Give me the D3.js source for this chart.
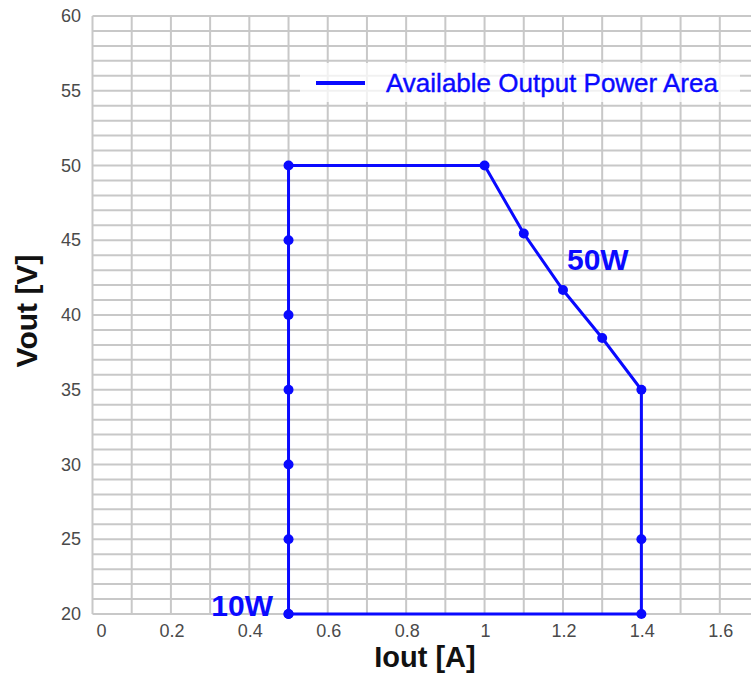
<!DOCTYPE html>
<html>
<head>
<meta charset="utf-8">
<script src="https://cdn.jsdelivr.net/npm/d3@7"></script>
<style>
    body { margin: 0; background: #fff; }
    svg { display: block; font-family: "Liberation Sans", Arial, sans-serif; }
</style>
</head>
<body>
<svg id="chart" width="751" height="677"></svg>
<script>
// Outline of the available output power area (Iout in A, Vout in V)
var iout = [0.5, 0.5, 0.5, 0.5, 0.5, 0.5, 0.5, 1.0, 1.1, 1.2, 1.3, 1.4, 1.4, 1.4, 0.5];
var vout = [20, 25, 30, 35, 40, 45, 50, 50, 45.45, 41.67, 38.46, 35, 25, 20, 20];

var xTicks = [0, 0.2, 0.4, 0.6, 0.8, 1, 1.2, 1.4, 1.6];
var yTicks = [20, 25, 30, 35, 40, 45, 50, 55, 60];
var xGrid = d3.range(0, 18).map(function (i) { return i / 10; });
var yGrid = d3.range(20, 61);

var blue = '#0a0aff';
var svg = d3.select('#chart');

var x = d3.scaleLinear().domain([0, 1.7]).range([92.5, 759]);
var y = d3.scaleLinear().domain([20, 60]).range([614, 16]);

// grid
var grid = svg.append('g').attr('class', 'grid')
    .attr('stroke', '#c8c8c8').attr('stroke-width', 2);
grid.selectAll('line.h')
    .data(yGrid)
    .enter()
    .append('line')
    .attr('class', 'h')
    .attr('x1', x(0)).attr('x2', 751)
    .attr('y1', function (d) { return y(d); })
    .attr('y2', function (d) { return y(d); });
grid.selectAll('line.v')
    .data(xGrid)
    .enter()
    .append('line')
    .attr('class', 'v')
    .attr('y1', y(60)).attr('y2', y(20))
    .attr('x1', function (d) { return x(d); })
    .attr('x2', function (d) { return x(d); });

// tick labels
svg.append('g').selectAll('text')
    .data(xTicks)
    .enter()
    .append('text')
    .attr('x', function (d) { return x(d) + (d === 0 ? 9 : 1); })
    .attr('y', 637)
    .attr('text-anchor', 'middle')
    .attr('font-size', 18)
    .attr('fill', '#4a4a4a')
    .text(function (d) { return d; });

svg.append('g').selectAll('text')
    .data(yTicks)
    .enter()
    .append('text')
    .attr('x', 81)
    .attr('y', function (d) { return y(d) + 6; })
    .attr('text-anchor', 'end')
    .attr('font-size', 18)
    .attr('fill', '#4a4a4a')
    .text(function (d) { return d; });

// axis titles
svg.append('text')
    .attr('transform', 'translate(37,311) rotate(-90)')
    .attr('text-anchor', 'middle')
    .attr('font-size', 30)
    .attr('font-weight', 'bold')
    .attr('fill', '#111')
    .text('Vout [V]');
svg.append('text')
    .attr('x', 425)
    .attr('y', 667)
    .attr('text-anchor', 'middle')
    .attr('font-size', 29)
    .attr('font-weight', 'bold')
    .attr('fill', '#111')
    .text('Iout [A]');

// outline + markers
var pts = iout.map(function (d, i) { return [d, vout[i]]; });
var line = d3.line()
    .x(function (d) { return x(d[0]); })
    .y(function (d) { return y(d[1]); });
svg.append('path')
    .datum(pts)
    .attr('d', line)
    .attr('fill', 'none')
    .attr('stroke', blue)
    .attr('stroke-width', 3);
svg.append('g').selectAll('circle')
    .data(pts)
    .enter()
    .append('circle')
    .attr('cx', function (d) { return x(d[0]); })
    .attr('cy', function (d) { return y(d[1]); })
    .attr('r', 5)
    .attr('fill', blue);

// power labels
svg.append('text')
    .attr('x', 273).attr('y', 616)
    .attr('text-anchor', 'end')
    .attr('font-size', 30).attr('font-weight', 'bold')
    .attr('fill', blue)
    .text('10W');
svg.append('text')
    .attr('x', 567).attr('y', 270)
    .attr('font-size', 30).attr('font-weight', 'bold')
    .attr('fill', blue)
    .text('50W');

// legend
var legend = svg.append('g').attr('class', 'legend');
legend.append('rect')
    .attr('x', 300).attr('y', 63)
    .attr('width', 440).attr('height', 39)
    .attr('fill', '#fff').attr('fill-opacity', 0.75);
legend.append('line')
    .attr('x1', 316).attr('x2', 365)
    .attr('y1', 83).attr('y2', 83)
    .attr('stroke', blue).attr('stroke-width', 4);
legend.append('text')
    .attr('x', 386).attr('y', 92)
    .attr('font-size', 26)
    .attr('fill', blue)
    .attr('stroke', blue)
    .attr('stroke-width', 0.4)
    .text('Available Output Power Area');
</script>
</body>
</html>
